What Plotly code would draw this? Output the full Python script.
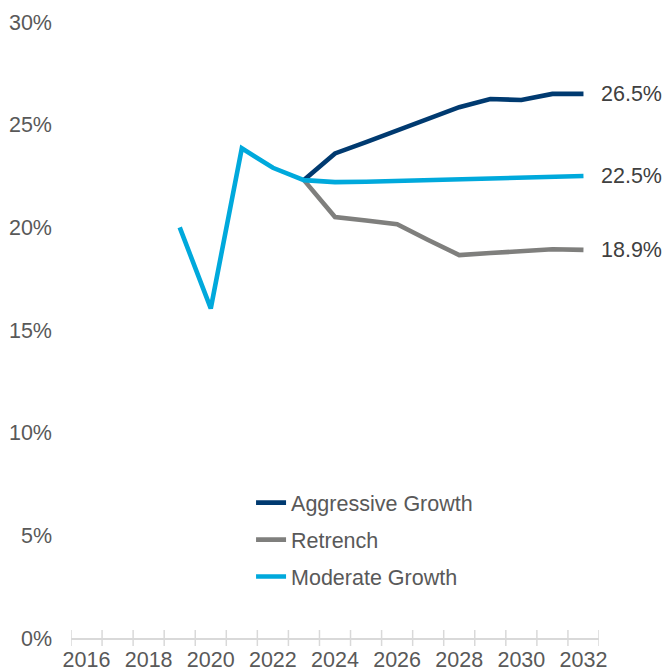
import plotly.graph_objects as go

# Share of total, by scenario (percent)
years = list(range(2016, 2033))
history_years = [2019, 2020, 2021, 2022, 2023]
history = [20.0, 16.05, 23.85, 22.9, 22.3]

proj_years = list(range(2023, 2033))
aggressive = [22.3, 23.6, 24.15, 24.7, 25.25, 25.85, 26.25, 26.2, 26.5, 26.5]
retrench = [22.3, 20.5, 20.33, 20.15, 19.38, 18.65, 18.75, 18.83, 18.93, 18.9]
moderate_proj = [22.3, 22.2, 22.22, 22.26, 22.3, 22.35, 22.4, 22.44, 22.48, 22.5]

series_names = ["Aggressive Growth", "Retrench", "Moderate Growth"]
colors = ["#003a70", "#7f7f7d", "#00a9dc"]

y_ticks = [0, 5, 10, 15, 20, 25, 30]
x_labels = list(range(2016, 2033, 2))

FONT = "Liberation Sans, Arial, sans-serif"
TEXT = "#595959"
FS = 21.5

fig = go.Figure()

moderate_years = history_years + proj_years[1:]
moderate = history + moderate_proj[1:]

for name, xs, ys, col in [
    (series_names[0], proj_years, aggressive, colors[0]),
    (series_names[1], proj_years, retrench, colors[1]),
    (series_names[2], moderate_years, moderate, colors[2]),
]:
    fig.add_trace(go.Scatter(
        x=xs, y=ys, mode="lines", name=name, legendgroup=name,
        line=dict(color=col, width=4.6),
        cliponaxis=False,
    ))
    fig.add_annotation(
        x=xs[-1], y=ys[-1], xref="x", yref="y",
        text=f"{ys[-1]:.1f}%", showarrow=False,
        xanchor="left", yanchor="middle", xshift=16,
        font=dict(family=FONT, size=FS, color="#404040"),
    )

# tick marks crossing the baseline at every year boundary
for b in [y - 0.5 for y in years] + [years[-1] + 0.5]:
    fig.add_shape(
        type="line", xref="x", yref="paper",
        x0=b, x1=b, y0=-0.013, y1=0.013,
        line=dict(color="#d9d9d9", width=1.5),
    )

fig.update_layout(
    width=667, height=672,
    margin=dict(l=71, r=68, t=22, b=34),
    plot_bgcolor="white", paper_bgcolor="white",
    font=dict(family=FONT, size=FS, color=TEXT),
    showlegend=True,
    legend=dict(
        x=0.341, y=0.253, xanchor="left", yanchor="top",
        bgcolor="rgba(0,0,0,0)",
        font=dict(family=FONT, size=FS, color=TEXT),
        tracegroupgap=6, traceorder="grouped",
    ),
    xaxis=dict(
        range=[years[0] - 0.5, years[-1] + 0.5],
        tickmode="array", tickvals=x_labels,
        ticktext=[str(v) for v in x_labels],
        ticks="", showgrid=False, zeroline=False,
        showline=True, linecolor="#d9d9d9", linewidth=2,
        ticklabelstandoff=1, automargin=False,
        tickfont=dict(family=FONT, size=FS, color=TEXT),
    ),
    yaxis=dict(
        range=[0, 30],
        tickmode="array", tickvals=y_ticks,
        ticktext=[f"{v}%" for v in y_ticks],
        ticks="", showgrid=False, zeroline=False, showline=False,
        ticklabelstandoff=18, automargin=False,
        tickfont=dict(family=FONT, size=FS, color=TEXT),
    ),
)

fig.write_html("out.html")
